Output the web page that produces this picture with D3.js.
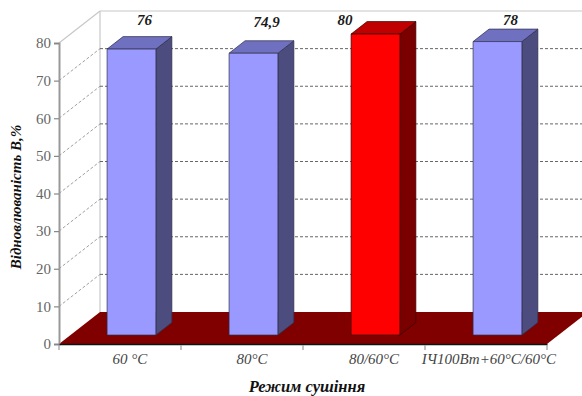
<!DOCTYPE html>
<html>
<head>
<meta charset="utf-8">
<script src="https://cdn.jsdelivr.net/npm/d3@7"></script>
<style>
  html, body { margin: 0; padding: 0; background: #fff; }
  svg { display: block; }
</style>
</head>
<body>
<svg id="chart" width="582" height="396"></svg>
<script>
// Recovery by drying mode
const categories = ["60 °C", "80°C", "80/60°C", "ІЧ100Вт+60°C/60°C"];
const values = [76, 74.9, 80, 78];
const valueLabels = ["76", "74,9", "80", "78"];
const highlighted = [false, false, true, false];
const yTicks = [0, 10, 20, 30, 40, 50, 60, 70, 80];

const svg = d3.select("#chart");
const serif = "'Liberation Serif', 'Times New Roman', serif";

// front plane of the 3D box
const x = d3.scaleBand().domain(categories).range([59, 547]).padding(0);
const y = d3.scaleLinear().domain([0, 80]).range([344, 43]);
// depth offset of the back wall
const DX = 41, DY = 32;
const P = (px, v, f) => [px + f * DX, y(v) - f * DY];

// bar geometry: width share of the band, depth span
const barW = x.bandwidth() * 0.4;
const f0 = 0.28, f1 = 0.67;

const line = d3.line();

// back wall: gridlines and border
const gBack = svg.append("g");
gBack.append("line")
  .attr("x1", 100).attr("x2", 100)
  .attr("y1", P(59, 80, 1)[1]).attr("y2", P(59, 0, 1)[1])
  .attr("stroke", "#c8c8c8").attr("stroke-width", 1.2);
yTicks.filter(v => v > 0).forEach(v => {
  const top = v === 80;
  const a = P(59, v, 0), b = P(59, v, 1), c = P(547, v, 1);
  gBack.append("line")
    .attr("x1", b[0]).attr("y1", b[1]).attr("x2", c[0]).attr("y2", c[1])
    .attr("stroke", top ? "#c8c8c8" : "#555")
    .attr("stroke-width", top ? 1.2 : 0.9)
    .attr("stroke-dasharray", top ? null : "3,2");
  gBack.append("line")
    .attr("x1", a[0]).attr("y1", a[1]).attr("x2", b[0]).attr("y2", b[1])
    .attr("stroke", top ? "#c8c8c8" : "#888")
    .attr("stroke-width", top ? 1.2 : 0.8)
    .attr("stroke-dasharray", top ? null : "3,2");
});

// floor
svg.append("path")
  .attr("d", line([P(59, 0, 0), P(547, 0, 0), P(547, 0, 1), P(59, 0, 1)]) + "Z")
  .attr("fill", "#800000");

// bars
const palette = {
  normal: { front: "#9999ff", top: "#7070c0", side: "#4c4c7e", stroke: "#2e2e4a" },
  hot: { front: "#ff0000", top: "#c00000", side: "#7a0000", stroke: "#3a0000" }
};
const gBars = svg.append("g");
categories.forEach((c, i) => {
  const col = highlighted[i] ? palette.hot : palette.normal;
  const xl = x(c) + (x.bandwidth() - barW) / 2, xr = xl + barW;
  const v = values[i];
  const front = [P(xl, 0, f0), P(xr, 0, f0), P(xr, v, f0), P(xl, v, f0)];
  const side = [P(xr, 0, f0), P(xr, 0, f1), P(xr, v, f1), P(xr, v, f0)];
  const top = [P(xl, v, f0), P(xr, v, f0), P(xr, v, f1), P(xl, v, f1)];
  [[side, col.side], [top, col.top], [front, col.front]].forEach(([pts, fill]) => {
    gBars.append("path")
      .attr("d", line(pts) + "Z")
      .attr("fill", fill)
      .attr("stroke", col.stroke)
      .attr("stroke-width", 0.7)
      .attr("stroke-linejoin", "round");
  });
});

// value labels above the bars
categories.forEach((c, i) => {
  const cx = x(c) + x.bandwidth() / 2;
  const lx = highlighted[i] ? cx - barW / 2 + f0 * DX - 6 : cx + 0.6 * DX;
  svg.append("text")
    .attr("x", lx)
    .attr("y", y(80) - DY + 14 + (values[i] < 75 ? 1.5 : 0))
    .attr("text-anchor", "middle")
    .attr("font-family", serif).attr("font-style", "italic").attr("font-weight", "bold")
    .attr("font-size", 15).attr("fill", "#1a1a1a")
    .text(valueLabels[i]);
});

// y axis
const yAxis = d3.axisLeft(y).tickValues(yTicks).tickSize(5).tickPadding(3);
const gy = svg.append("g").attr("transform", "translate(59,0)").call(yAxis);
gy.select(".domain").attr("stroke", "#999").attr("stroke-width", 2);
gy.selectAll(".tick line").attr("stroke", "#888").attr("stroke-width", 1.2);
gy.selectAll(".tick text")
  .attr("font-family", serif).attr("font-size", 15).attr("fill", "#666");

// x axis
const xAxis = d3.axisBottom(x).tickSize(0).tickFormat("");
const gx = svg.append("g").attr("transform", "translate(0,344)").call(xAxis);
gx.select(".domain").attr("stroke", "#111").attr("stroke-width", 1.3);
const bounds = [...categories.map(c => x(c)), x.range()[1]];
svg.append("g").selectAll("line").data(bounds).join("line")
  .attr("x1", d => d).attr("x2", d => d)
  .attr("y1", 345).attr("y2", 350)
  .attr("stroke", "#999").attr("stroke-width", 1.2);

// category labels
categories.forEach(c => {
  const t = svg.append("text")
    .attr("x", x(c) + x.bandwidth() / 2 + 10)
    .attr("y", 364)
    .attr("text-anchor", "middle")
    .attr("font-family", serif).attr("font-style", "italic")
    .attr("font-size", 15).attr("fill", "#444")
    .text(c);
  const w = t.node().getComputedTextLength();
  const cx = +t.attr("x");
  if (cx + w / 2 > 556) t.attr("x", 556 - w / 2);
});

// axis titles
svg.append("text")
  .attr("x", 307).attr("y", 392)
  .attr("text-anchor", "middle")
  .attr("font-family", serif).attr("font-style", "italic").attr("font-weight", "bold")
  .attr("font-size", 16.5).attr("fill", "#111")
  .text("Режим сушіння");

svg.append("text")
  .attr("transform", "translate(21,197) rotate(-90)")
  .attr("text-anchor", "middle")
  .attr("font-family", serif).attr("font-style", "italic").attr("font-weight", "bold")
  .attr("font-size", 15).attr("fill", "#111")
  .text("Відновлюваність В,%");
</script>
</body>
</html>
